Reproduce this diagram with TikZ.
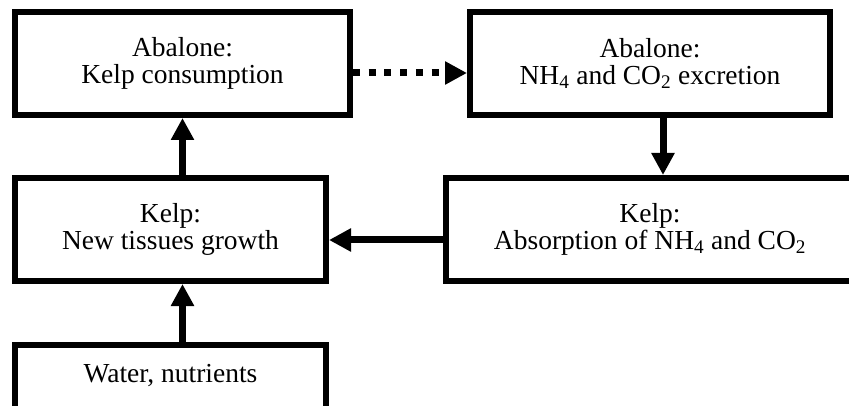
\documentclass[tikz,border=0pt]{standalone}
\usepackage{fontspec}
\setmainfont{Liberation Serif}
\usetikzlibrary{arrows.meta}
\begin{document}
\begin{tikzpicture}[x=1pt,y=1pt,
  box/.style={draw=black, line width=6pt, fill=white, align=center, inner sep=0pt,
    font=\fontsize{27.5pt}{26.5pt}\selectfont, minimum height=103pt},
  flow/.style={line width=7pt, -{Triangle[length=22pt,width=22pt]}},
  dots/.style={flow, dash pattern=on 7pt off 8.7pt}]
\useasboundingbox (0,0) rectangle (849,-406);
\node[box, minimum width=335pt] (A) at (182.5,-63.5) {Abalone:\\Kelp consumption};
\node[box, minimum width=360pt] (B) at (650,-63.5) {Abalone:\\NH\textsubscript{4} and CO\textsubscript{2} excretion};
\node[box, minimum width=408pt] (C) at (650,-229.5) {Kelp:\\Absorption of NH\textsubscript{4} and CO\textsubscript{2}};
\node[box, minimum width=311pt] (D) at (170.5,-229.5) {Kelp:\\New tissues growth};
\node[box, minimum width=311pt, minimum height=75pt, text height=20pt, text depth=20pt] (E) at (170.5,-382) {Water, nutrients};
\draw[dots] ([yshift=-9.5pt]A.east) -- ([yshift=-9.5pt]A.east -| B.west);
\draw[flow] ([xshift=13pt]B.south) -- ([xshift=13pt]C.north);
\draw[flow] ([yshift=-10.5pt]C.west) -- ([yshift=-10.5pt]C.west -| D.east);
\draw[flow] (A.south |- D.north) -- (A.south);
\draw[flow] (A.south |- E.north) -- (A.south |- D.south);
\end{tikzpicture}
\end{document}
